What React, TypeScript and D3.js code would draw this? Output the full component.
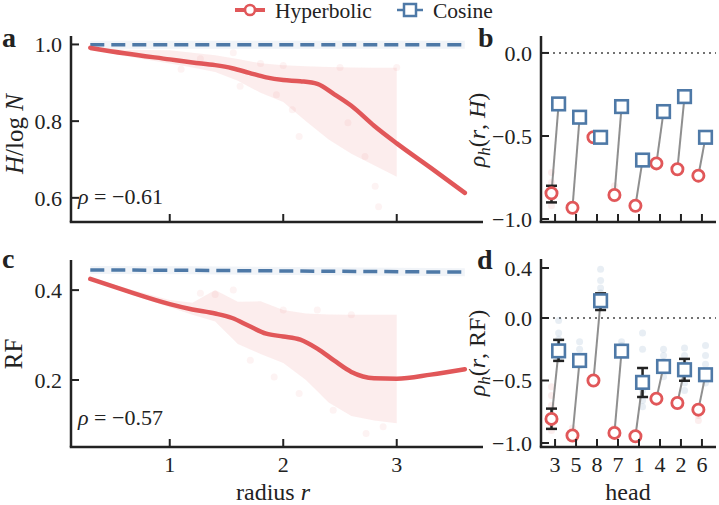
import * as d3 from 'd3';

const RED = '#e15759';
const BLUE = '#4e79a7';
const INK = '#222';
const FONT = "'Liberation Serif', serif";

// mean normalised entropy / receptive field vs. radius (hyperbolic heads)
const radius = [0.3, 0.6, 1.0, 1.2, 1.4, 1.55, 1.7, 1.85, 2.0, 2.15, 2.3, 2.45, 2.6, 2.8, 3.0, 3.3, 3.6];
const hypEntropy = [0.991, 0.977, 0.961, 0.953, 0.946, 0.938, 0.926, 0.914, 0.907, 0.904, 0.897, 0.870, 0.840, 0.788, 0.742, 0.678, 0.613];
const hypRF = [0.425, 0.400, 0.369, 0.357, 0.348, 0.338, 0.320, 0.303, 0.297, 0.290, 0.270, 0.243, 0.218, 0.204, 0.203, 0.212, 0.224];

// cosine baseline
const cosRadius = [0.3, 1.2, 2.4, 3.6];
const cosEntropy = [0.9995, 0.9995, 0.999, 0.999];
const cosRF = [0.445, 0.444, 0.442, 0.440];

// spread across heads
const bandRadius = [0.3, 0.6, 1.0, 1.2, 1.4, 1.6, 1.8, 2.0, 2.2, 2.4, 2.6, 2.8, 3.0];
const entropyHi = [0.993, 0.986, 0.985, 0.978, 0.972, 0.962, 0.951, 0.946, 0.943, 0.941, 0.940, 0.939, 0.939];
const entropyLo = [0.989, 0.970, 0.950, 0.940, 0.928, 0.905, 0.874, 0.850, 0.800, 0.752, 0.715, 0.685, 0.655];
const rfHi = [0.427, 0.405, 0.378, 0.372, 0.400, 0.374, 0.375, 0.356, 0.348, 0.346, 0.345, 0.345, 0.345];
const rfLo = [0.424, 0.395, 0.362, 0.345, 0.330, 0.280, 0.258, 0.238, 0.200, 0.150, 0.120, 0.110, 0.104];

// individual (radius, value) samples
const entropyDots: [number, number][] = [[1.1, 0.935], [1.27, 0.963], [1.56, 0.978], [1.62, 0.891], [1.94, 0.869], [2.08, 0.83], [2.14, 0.76], [2.57, 0.796], [2.72, 0.708], [2.81, 0.63], [2.84, 0.577], [3.0, 0.94], [2.5, 0.94], [2.0, 0.945], [1.8, 0.95]];
const rfDots: [number, number][] = [[1.27, 0.393], [1.56, 0.4], [2.0, 0.356], [2.3, 0.356], [2.14, 0.17], [2.44, 0.133], [2.73, 0.081], [2.88, 0.096], [1.71, 0.244], [1.92, 0.207], [2.6, 0.345], [1.4, 0.39]];

// per-head correlation between radius and the metric
const heads = ['3', '5', '8', '7', '1', '4', '2', '6'];
const rhoHypH = [-0.845, -0.932, -0.508, -0.855, -0.92, -0.665, -0.70, -0.739];
const rhoCosH = [-0.307, -0.387, -0.508, -0.323, -0.645, -0.353, -0.263, -0.508];
const rhoHypRF = [-0.807, -0.94, -0.50, -0.919, -0.946, -0.645, -0.68, -0.733];
const rhoCosRF = [-0.263, -0.34, 0.138, -0.265, -0.515, -0.388, -0.414, -0.454];

type Err = [number, number] | null;
const errHypH: Err[] = [[-0.80, -0.90], null, null, null, null, null, null, null];
const errHypRF: Err[] = [[-0.725, -0.887], null, null, null, null, null, null, null];
const errCosRF: Err[] = [[-0.175, -0.343], null, [0.197, 0.064], null, [-0.40, -0.632], null, [-0.327, -0.502], null];

const hypDotsH = [[-0.72, -0.78, -0.88, -0.92], [], [], [-0.80, -0.88], [], [], [], [-0.76]];
const cosDotsH = [[], [], [], [], [], [-0.34, -0.37], [-0.25], []];
const hypDotsRF = [[-0.55, -0.62, -0.70, -0.85, -0.90], [-0.88, -0.92], [], [-0.88], [], [], [], [-0.78, -0.82]];
const cosDotsRF = [
  [-0.02, -0.12, -0.17, -0.22, -0.28, -0.33],
  [-0.19, -0.25, -0.31, -0.38],
  [0.39, 0.30, 0.24, 0.20],
  [-0.19, -0.22, -0.26],
  [-0.12, -0.25, -0.5, -0.58, -0.66, -0.71],
  [-0.25, -0.30, -0.35, -0.42, -0.47],
  [-0.24, -0.30, -0.36, -0.45, -0.52, -0.58],
  [-0.22, -0.30, -0.37, -0.44, -0.52],
];

const W = 719;
const H = 505;
const TICK = 8;

function LeftAxis({ y, x0, ticks, fmt }: { y: d3.ScaleLinear<number, number>; x0: number; ticks: number[]; fmt: (v: number) => string }) {
  const [b, t] = y.range();
  return (
    <g>
      <line x1={x0} x2={x0} y1={b} y2={t} stroke={INK} strokeWidth={2.5} />
      {ticks.map((v) => (
        <g key={v}>
          <line x1={x0} x2={x0 + TICK} y1={y(v)} y2={y(v)} stroke={INK} strokeWidth={2} />
          <text x={x0 - 9} y={y(v)} dy="0.35em" textAnchor="end" fontSize={22} fill={INK}>{fmt(v)}</text>
        </g>
      ))}
    </g>
  );
}

function BottomAxis({ xs, y0, x0, x1, labels }: { xs: number[]; y0: number; x0: number; x1: number; labels?: string[] }) {
  return (
    <g>
      <line x1={x0 - 1.25} x2={x1} y1={y0} y2={y0} stroke={INK} strokeWidth={2.5} />
      {xs.map((px, i) => (
        <g key={i}>
          <line x1={px} x2={px} y1={y0} y2={y0 - TICK} stroke={INK} strokeWidth={2} />
          {labels && <text x={px} y={y0 + 25} textAnchor="middle" fontSize={22} fill={INK}>{labels[i]}</text>}
        </g>
      ))}
    </g>
  );
}

function RadiusPanel({ y, mean, cos, lo, hi, dots, ticks, fmt, showLabels, rho, rhoY }: {
  y: d3.ScaleLinear<number, number>; mean: number[]; cos: number[]; lo: number[]; hi: number[]; dots: [number, number][];
  ticks: number[]; fmt: (v: number) => string; showLabels: boolean; rho: string; rhoY: number;
}) {
  const x = d3.scaleLinear().domain([0.13, 3.76]).range([71, 483]);
  const area = d3.area<number>().x((_, i) => x(bandRadius[i])).y0((_, i) => y(lo[i])).y1((_, i) => y(hi[i]));
  const meanLine = d3.line<number>().x((_, i) => x(radius[i])).y((d) => y(d)).curve(d3.curveMonotoneX);
  const cosLine = d3.line<number>().x((_, i) => x(cosRadius[i])).y((d) => y(d));
  const [yb] = y.range();
  return (
    <g>
      <path d={area(lo) ?? ''} fill={RED} fillOpacity={0.11} />
      {dots.map(([r, v], i) => (
        <circle key={i} cx={x(r)} cy={y(v)} r={3.5} fill={RED} fillOpacity={0.07} />
      ))}
      <path d={cosLine(cos) ?? ''} fill="none" stroke={BLUE} strokeOpacity={0.08} strokeWidth={8} />
      <path d={cosLine(cos) ?? ''} fill="none" stroke={BLUE} strokeWidth={3.5} strokeDasharray="14,7" />
      <path d={meanLine(mean) ?? ''} fill="none" stroke={RED} strokeWidth={4.5} strokeLinecap="round" />
      <LeftAxis y={y} x0={71} ticks={ticks} fmt={fmt} />
      <BottomAxis xs={[1, 2, 3].map((d) => x(d))} y0={yb} x0={71} x1={483} labels={showLabels ? ['1', '2', '3'] : undefined} />
      <text x={78} y={rhoY} fontSize={22} fill={INK}>
        <tspan fontStyle="italic">ρ</tspan> = −{rho}
      </text>
    </g>
  );
}

function HeadPanel({ y, hyp, cos, errHyp, errCos, hypDots, cosDots, ticks, showLabels }: {
  y: d3.ScaleLinear<number, number>; hyp: number[]; cos: number[]; errHyp: Err[]; errCos: Err[];
  hypDots: number[][]; cosDots: number[][]; ticks: number[]; showLabels: boolean;
}) {
  const x = d3.scaleLinear().domain([-0.67, heads.length - 0.33]).range([541, 716]);
  const [yb] = y.range();
  const off = 0.17;
  const xh = (i: number) => x(i - off);
  const xc = (i: number) => x(i + off);
  const errBar = (e: Err, cx: number, key: string) =>
    e && (
      <g key={key} stroke={INK} strokeWidth={2.5}>
        <line x1={cx} x2={cx} y1={y(e[0])} y2={y(e[1])} />
        <line x1={cx - 5.5} x2={cx + 5.5} y1={y(e[0])} y2={y(e[0])} />
        <line x1={cx - 5.5} x2={cx + 5.5} y1={y(e[1])} y2={y(e[1])} />
      </g>
    );
  return (
    <g>
      <line x1={541} x2={716} y1={y(0)} y2={y(0)} stroke="#444" strokeWidth={1.6} strokeDasharray="2,4" />
      {hypDots.map((arr, i) => arr.map((v, j) => <circle key={`h${i}-${j}`} cx={xh(i)} cy={y(v)} r={3.5} fill={RED} fillOpacity={0.1} />))}
      {cosDots.map((arr, i) => arr.map((v, j) => <circle key={`c${i}-${j}`} cx={xc(i)} cy={y(v)} r={3.5} fill={BLUE} fillOpacity={0.13} />))}
      {heads.map((_, i) => (
        <line key={`l${i}`} x1={xh(i)} y1={y(hyp[i])} x2={xc(i)} y2={y(cos[i])} stroke="#8f8f8f" strokeWidth={2} />
      ))}
      {heads.map((_, i) => errBar(errHyp[i], xh(i), `eh${i}`))}
      {heads.map((_, i) => errBar(errCos[i], xc(i), `ec${i}`))}
      {heads.map((_, i) => (
        <circle key={`m${i}`} cx={xh(i)} cy={y(hyp[i])} r={5.6} fill="#fff" stroke={RED} strokeWidth={2.8} />
      ))}
      {heads.map((_, i) => (
        <rect key={`s${i}`} x={xc(i) - 6.3} y={y(cos[i]) - 6.3} width={12.6} height={12.6} fill="#fff" stroke={BLUE} strokeWidth={2.6} />
      ))}
      <LeftAxis y={y} x0={541} ticks={ticks} fmt={(v) => d3.format('.1f')(v)} />
      <BottomAxis xs={heads.map((_, i) => x(i))} y0={yb} x0={541} x1={716} labels={showLabels ? heads : undefined} />
    </g>
  );
}

export default function App() {
  const yA = d3.scaleLinear().domain([0.537, 1.022]).range([222, 36]);
  const yC = d3.scaleLinear().domain([0.051, 0.467]).range([447, 260]);
  const yB = d3.scaleLinear().domain([-1.018, 0.102]).range([222, 36]);
  const yD = d3.scaleLinear().domain([-1.032, 0.472]).range([447, 259]);
  const f1 = (v: number) => d3.format('.1f')(v);

  return (
    <svg width={W} height={H} viewBox={`0 0 ${W} ${H}`} style={{ position: 'absolute', left: 0, top: 0, background: '#fff', fontFamily: FONT }}>
      <rect width={W} height={H} fill="#fff" />

      {/* legend */}
      <g>
        <line x1={235} x2={265} y1={10} y2={10} stroke={RED} strokeWidth={4} />
        <circle cx={250} cy={10} r={5} fill="#fff" stroke={RED} strokeWidth={2.6} />
        <text x={275} y={17.5} fontSize={21.5} fill={INK}>Hyperbolic</text>
        <line x1={397} x2={423} y1={10} y2={10} stroke={BLUE} strokeWidth={2.5} />
        <rect x={404} y={4} width={12} height={12} fill="#fff" stroke={BLUE} strokeWidth={2.5} />
        <text x={433} y={17.5} fontSize={21.5} fill={INK}>Cosine</text>
      </g>

      <RadiusPanel y={yA} mean={hypEntropy} cos={cosEntropy} lo={entropyLo} hi={entropyHi} dots={entropyDots}
        ticks={[0.6, 0.8, 1.0]} fmt={f1} showLabels={false} rho="0.61" rhoY={204} />
      <RadiusPanel y={yC} mean={hypRF} cos={cosRF} lo={rfLo} hi={rfHi} dots={rfDots}
        ticks={[0.2, 0.4]} fmt={f1} showLabels rho="0.57" rhoY={425} />
      <HeadPanel y={yB} hyp={rhoHypH} cos={rhoCosH} errHyp={errHypH} errCos={heads.map(() => null)}
        hypDots={hypDotsH} cosDots={cosDotsH} ticks={[-1.0, -0.5, 0.0]} showLabels={false} />
      <HeadPanel y={yD} hyp={rhoHypRF} cos={rhoCosRF} errHyp={errHypRF} errCos={errCosRF}
        hypDots={hypDotsRF} cosDots={cosDotsRF} ticks={[-1.0, -0.5, 0.0, 0.4]} showLabels />

      {/* axis titles */}
      <text transform="translate(23,134) rotate(-90)" textAnchor="middle" fontSize={25} fill={INK}>
        <tspan fontStyle="italic">H</tspan>/log <tspan fontStyle="italic">N</tspan>
      </text>
      <text transform="translate(22,354) rotate(-90)" textAnchor="middle" fontSize={25} fill={INK}>RF</text>
      <text transform="translate(485,130) rotate(-90)" textAnchor="middle" fontSize={24} fill={INK}>
        <tspan fontStyle="italic">ρ</tspan><tspan fontStyle="italic" fontSize={17} dy={5}>h</tspan><tspan dy={-5}>(</tspan><tspan fontStyle="italic">r</tspan>, <tspan fontStyle="italic">H</tspan>)
      </text>
      <text transform="translate(485,353) rotate(-90)" textAnchor="middle" fontSize={24} fill={INK}>
        <tspan fontStyle="italic">ρ</tspan><tspan fontStyle="italic" fontSize={17} dy={5}>h</tspan><tspan dy={-5}>(</tspan><tspan fontStyle="italic">r</tspan>, RF)
      </text>
      <text x={273} y={500} textAnchor="middle" fontSize={24} fill={INK}>
        radius <tspan fontStyle="italic">r</tspan>
      </text>
      <text x={628} y={500} textAnchor="middle" fontSize={24} fill={INK}>head</text>

      {/* panel letters */}
      <g fontWeight="bold" fontSize={28} fill={INK}>
        <text x={2} y={47}>a</text>
        <text x={478} y={47}>b</text>
        <text x={2} y={268}>c</text>
        <text x={477} y={269}>d</text>
      </g>
    </svg>
  );
}
